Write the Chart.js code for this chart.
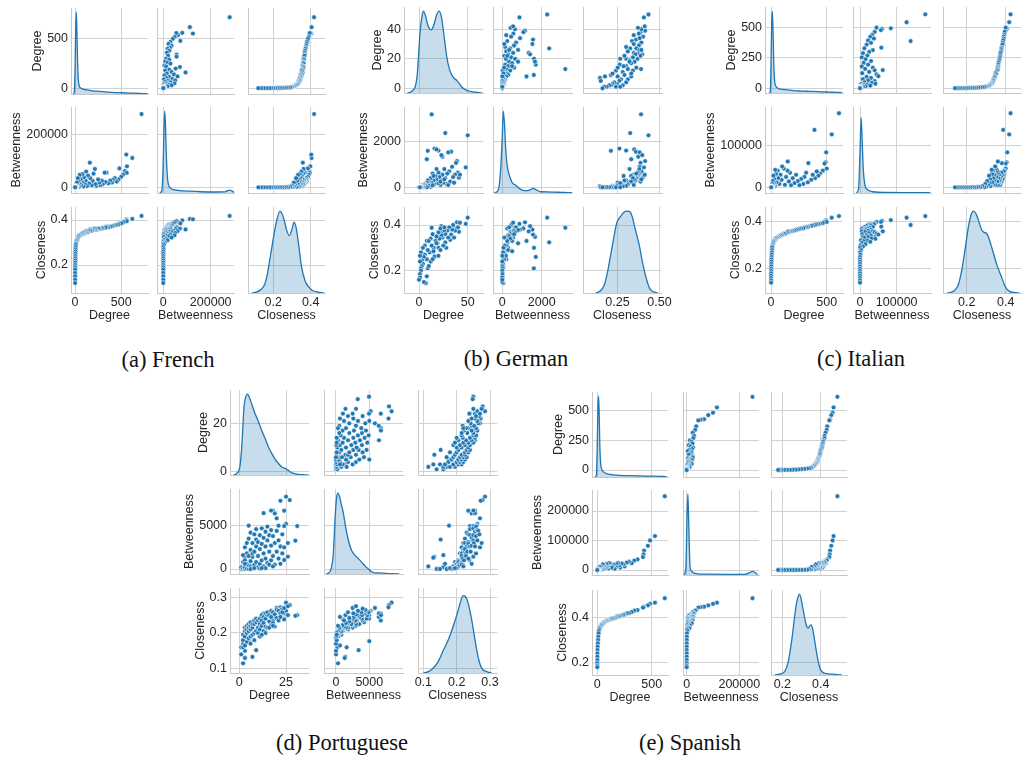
<!DOCTYPE html>
<html lang="en">
<head>
<meta charset="UTF-8">
<title>Degree, betweenness and closeness pair plots</title>
<script src="https://cdn.jsdelivr.net/npm/chart.js"></script>
<style>
    body { margin: 0; background: #fff; }
    #figure { position: relative; width: 1022px; height: 763px; overflow: hidden; }
    #figure canvas { position: absolute; }
    .caption { position: absolute; width: 300px; text-align: center; font-family: "Liberation Serif", serif; font-size: 22.5px; line-height: 26px; color: #111; }
</style>
</head>
<body>
<div id="figure"></div>
<script>
const measureNames = ['Degree', 'Betweenness', 'Closeness'];

// every node is [degree, betweenness, closeness]; kde rows are [value, relative density]

// (a) French
const frenchNodes = [
    [720, 280000, 0.418], [620, 112000, 0.405], [555, 125000, 0.403], [562, 80000, 0.398], [540, 62000, 0.392],
    [560, 55000, 0.395], [520, 48000, 0.39], [480, 72000, 0.385], [500, 40000, 0.385], [470, 30000, 0.38],
    [450, 22000, 0.378], [430, 35000, 0.376], [410, 28000, 0.374], [400, 18000, 0.372], [380, 25000, 0.37],
    [360, 15000, 0.368], [340, 56000, 0.37], [320, 56000, 0.367], [330, 20000, 0.366], [300, 12000, 0.362],
    [290, 25000, 0.364], [270, 8000, 0.36], [260, 18000, 0.361], [250, 30000, 0.362], [230, 5000, 0.356],
    [220, 12000, 0.358], [215, 70000, 0.362], [200, 52000, 0.36], [190, 25000, 0.355], [180, 8000, 0.352],
    [160, 94000, 0.358], [165, 35000, 0.354], [150, 15000, 0.35], [140, 45000, 0.352], [130, 5000, 0.345],
    [120, 60000, 0.35], [115, 25000, 0.346], [105, 12000, 0.343], [95, 38000, 0.345], [90, 3000, 0.338],
    [80, 50000, 0.342], [75, 20000, 0.338], [65, 8000, 0.333], [60, 30000, 0.336], [50, 47000, 0.332],
    [48, 15000, 0.33], [40, 2000, 0.325], [38, 25000, 0.328], [30, 35000, 0.322], [28, 10000, 0.318],
    [22, 4000, 0.312], [20, 18000, 0.31], [15, 1500, 0.305], [12, 6000, 0.3], [10, 500, 0.295],
    [8, 2500, 0.29], [7, 200, 0.28], [6, 1000, 0.27], [5, 100, 0.26], [4, 0, 0.25],
    [4, 300, 0.24], [3, 0, 0.23], [3, 0, 0.22], [2, 0, 0.21], [2, 0, 0.2],
    [2, 0, 0.19], [1, 0, 0.18], [1, 0, 0.165], [1, 0, 0.15], [1, 0, 0.135], [1, 0, 0.12]
];
const frenchDegreeKde = [[-20, 0], [-8, 0.03], [0, 0.3], [7, 0.8], [14, 1], [20, 0.75], [27, 0.4], [35, 0.18], [45, 0.1], [60, 0.075],
    [85, 0.06], [125, 0.05], [170, 0.042], [230, 0.035], [300, 0.028], [400, 0.02], [500, 0.015], [600, 0.011], [700, 0.008], [760, 0.004], [790, 0.001]];
const frenchBetweennessKde = [[-15000, 0], [-6000, 0.03], [-1000, 0.3], [3000, 0.8], [6000, 1], [9000, 0.85], [13000, 0.45], [17000, 0.2], [22000, 0.1],
    [30000, 0.06], [45000, 0.04], [70000, 0.03], [110000, 0.022], [160000, 0.015], [220000, 0.012], [260000, 0.014], [272000, 0.03], [282000, 0.035], [292000, 0.02], [300000, 0.005]];
const frenchClosenessKde = [[0.085, 0], [0.11, 0.01], [0.13, 0.035], [0.145, 0.07], [0.155, 0.11], [0.17, 0.25], [0.186, 0.47], [0.2, 0.66], [0.215, 0.85],
    [0.236, 1], [0.255, 0.92], [0.27, 0.78], [0.286, 0.7], [0.3, 0.78], [0.311, 0.865], [0.322, 0.8], [0.335, 0.6], [0.352, 0.31], [0.37, 0.15],
    [0.387, 0.08], [0.41, 0.03], [0.44, 0.01], [0.47, 0]];
const frenchXTicks = [['0', '500'], ['0', '200000'], ['0.2', '0.4']];
const frenchYTicks = [['0', '500'], ['0', '200000'], ['0.2', '0.4']];

// (b) German
const germanNodes = [
    [13, 3200, 0.388], [27, 2380, 0.324], [50, 2280, 0.432], [48, 870, 0.405], [9, 1600, 0.21],
    [16, 1700, 0.26], [20, 1610, 0.3], [18, 1660, 0.348], [33, 1560, 0.358], [30, 1530, 0.38],
    [24, 1340, 0.372], [23, 1410, 0.395], [8, 1230, 0.33], [39, 1150, 0.412], [38, 1070, 0.385],
    [40, 640, 0.39], [41, 420, 0.37], [37, 560, 0.375], [35, 450, 0.4], [32, 250, 0.335],
    [34, 900, 0.38], [31, 700, 0.39], [42, 550, 0.41], [36, 200, 0.345], [29, 600, 0.375],
    [28, 150, 0.3], [27, 400, 0.36], [26, 800, 0.378], [25, 200, 0.31], [24, 550, 0.345],
    [23, 300, 0.355], [22, 100, 0.29], [21, 450, 0.34], [20, 650, 0.368], [19, 250, 0.32],
    [18, 350, 0.35], [17, 500, 0.33], [16, 150, 0.262], [15, 300, 0.3], [14, 600, 0.36],
    [13, 200, 0.31], [12, 400, 0.34], [11, 100, 0.28], [10, 250, 0.33], [9, 300, 0.29],
    [8, 200, 0.25], [6, 150, 0.27], [6, 120, 0.31], [5, 100, 0.26], [4, 60, 0.3],
    [3, 80, 0.245], [2, 40, 0.28], [12, 20, 0.24], [10, 60, 0.22], [14, 90, 0.25],
    [20, 180, 0.265], [7, 50, 0.145], [8, 0, 0.175], [5, 0, 0.15], [4, 30, 0.23],
    [3, 0, 0.22], [2, 20, 0.21], [2, 0, 0.2], [1, 10, 0.185], [1, 0, 0.17],
    [0, 0, 0.16], [1, 0, 0.24], [1, 0, 0.265], [15, 500, 0.285], [18, 800, 0.32],
    [22, 250, 0.385], [26, 350, 0.39], [30, 100, 0.345]
];
const germanDegreeKde = [[-12, 0], [-7.5, 0.02], [-4, 0.073], [-2, 0.2], [-0.7, 0.41], [1, 0.73], [3, 0.93], [4.5, 1], [6.5, 0.95], [9, 0.83],
    [12.3, 0.77], [15, 0.82], [18, 0.95], [20.5, 1], [23, 0.93], [25.5, 0.72], [28.4, 0.45], [31, 0.3], [33.6, 0.22], [36, 0.18],
    [38.7, 0.155], [41, 0.12], [43.8, 0.073], [47, 0.045], [50.7, 0.027], [55, 0.015], [60, 0.006], [65, 0]];
const germanBetweennessKde = [[-400, 0], [-200, 0.04], [-80, 0.3], [0, 0.7], [50, 1], [110, 0.85], [170, 0.55], [250, 0.33], [330, 0.24], [420, 0.17],
    [520, 0.12], [640, 0.1], [760, 0.08], [900, 0.05], [1100, 0.03], [1300, 0.03], [1450, 0.045], [1580, 0.055], [1750, 0.035], [1950, 0.015],
    [2300, 0.014], [2600, 0.01], [3000, 0.008], [3300, 0.005], [3540, 0.003]];
const germanClosenessKde = [[0.12, 0], [0.137, 0.012], [0.155, 0.04], [0.172, 0.1], [0.185, 0.2], [0.196, 0.31], [0.21, 0.47], [0.225, 0.64], [0.245, 0.85],
    [0.27, 0.94], [0.29, 0.99], [0.31, 1], [0.325, 0.99], [0.338, 0.93], [0.352, 0.81], [0.368, 0.68], [0.382, 0.56], [0.396, 0.4], [0.41, 0.27],
    [0.425, 0.15], [0.44, 0.063], [0.455, 0.025], [0.47, 0.01], [0.49, 0]];
const germanXTicks = [['0', '50'], ['0', '2000'], ['0.25', '0.50']];
const germanYTicks = [['0', '20', '40'], ['0', '2000'], ['0.2', '0.4']];

// (c) Italian
const italianNodes = [
    [610, 178000, 0.425], [545, 127000, 0.418], [390, 138000, 0.387], [495, 84000, 0.408], [490, 60000, 0.405],
    [480, 57000, 0.4], [500, 45000, 0.4], [465, 40000, 0.395], [440, 33000, 0.393], [425, 28000, 0.39],
    [410, 38000, 0.39], [395, 22000, 0.387], [375, 30000, 0.385], [360, 18000, 0.383], [335, 58000, 0.38],
    [330, 12000, 0.378], [315, 35000, 0.378], [300, 25000, 0.376], [290, 8000, 0.373], [270, 20000, 0.372],
    [255, 5000, 0.37], [240, 15000, 0.368], [225, 30000, 0.366], [210, 10000, 0.363], [195, 22000, 0.362],
    [180, 5000, 0.36], [170, 35000, 0.36], [160, 14000, 0.357], [150, 62000, 0.36], [148, 40000, 0.356],
    [135, 25000, 0.352], [125, 6000, 0.348], [115, 45000, 0.35], [100, 50000, 0.346], [95, 18000, 0.343],
    [85, 30000, 0.342], [75, 8000, 0.338], [65, 22000, 0.336], [60, 40000, 0.335], [50, 12000, 0.332],
    [45, 32000, 0.33], [38, 42000, 0.328], [35, 3000, 0.322], [30, 20000, 0.32], [28, 10000, 0.318],
    [22, 28000, 0.315], [20, 5000, 0.31], [16, 15000, 0.305], [14, 1500, 0.3], [12, 8000, 0.295],
    [10, 500, 0.29], [9, 3000, 0.28], [8, 300, 0.27], [6, 1000, 0.26], [5, 100, 0.25],
    [4, 0, 0.24], [4, 200, 0.23], [3, 0, 0.22], [3, 0, 0.21], [2, 0, 0.2],
    [2, 0, 0.19], [1, 0, 0.18], [1, 0, 0.17], [1, 0, 0.16], [1, 0, 0.15], [1, 0, 0.14]
];
const italianDegreeKde = [[-15, 0], [-6, 0.03], [0, 0.35], [6, 0.85], [12, 1], [18, 0.75], [25, 0.35], [33, 0.14], [45, 0.08], [60, 0.06],
    [90, 0.047], [130, 0.04], [200, 0.03], [275, 0.024], [350, 0.02], [425, 0.016], [500, 0.012], [560, 0.009], [610, 0.006], [640, 0.002]];
const italianBetweennessKde = [[-10000, 0], [-4000, 0.05], [0, 0.5], [3000, 0.92], [6000, 0.62], [9000, 0.28], [13600, 0.094], [18000, 0.05],
    [23000, 0.033], [30000, 0.02], [41000, 0.012], [70000, 0.008], [120000, 0.005], [180000, 0.004], [192000, 0.002]];
const italianClosenessKde = [[0.1, 0], [0.118, 0.008], [0.131, 0.02], [0.145, 0.05], [0.157, 0.1], [0.174, 0.27], [0.191, 0.52], [0.209, 0.81],
    [0.222, 0.95], [0.234, 1], [0.247, 0.97], [0.26, 0.89], [0.277, 0.77], [0.29, 0.74], [0.303, 0.725], [0.315, 0.66], [0.328, 0.56],
    [0.354, 0.35], [0.38, 0.187], [0.397, 0.079], [0.42, 0.02], [0.45, 0.004], [0.47, 0]];
const italianXTicks = [['0', '500'], ['0', '100000'], ['0.2', '0.4']];
const italianYTicks = [['0', '250', '500'], ['0', '100000'], ['0.2', '0.4']];

// (d) Portuguese
const portugueseNodes = [
    [25, 8350, 0.285], [27, 7960, 0.278], [22, 7880, 0.272], [18, 6730, 0.235], [19, 6420, 0.245],
    [24, 6730, 0.255], [20, 5850, 0.27], [25, 5200, 0.262], [24, 4960, 0.24], [31, 4960, 0.25],
    [30, 3270, 0.248], [13, 6450, 0.255], [17, 6750, 0.25], [5, 5000, 0.177], [9, 3400, 0.152],
    [7, 1400, 0.133], [26, 1420, 0.25], [24, 1040, 0.238], [21, 5000, 0.26], [3, 1300, 0.13],
    [2, 300, 0.115], [1, 0, 0.14], [1, 200, 0.16], [2, 0, 0.17], [2, 100, 0.18],
    [2, 800, 0.195], [3, 0, 0.15], [3, 200, 0.19], [3, 1000, 0.205], [3, 2500, 0.215],
    [4, 50, 0.175], [4, 600, 0.2], [4, 1800, 0.21], [4, 3000, 0.22], [5, 0, 0.185],
    [5, 400, 0.205], [5, 1500, 0.215], [5, 3500, 0.225], [6, 300, 0.19], [6, 900, 0.21],
    [6, 2200, 0.22], [6, 4200, 0.23], [7, 100, 0.195], [7, 1800, 0.215], [7, 3000, 0.225],
    [8, 500, 0.2], [8, 2000, 0.225], [8, 4000, 0.235], [9, 800, 0.205], [9, 2600, 0.23],
    [9, 4600, 0.24], [10, 200, 0.2], [10, 1500, 0.215], [10, 3100, 0.235], [11, 600, 0.21],
    [11, 2300, 0.225], [11, 3900, 0.24], [12, 1000, 0.22], [12, 2900, 0.235], [12, 4700, 0.25],
    [13, 300, 0.205], [13, 1800, 0.228], [13, 3600, 0.245], [14, 1200, 0.218], [14, 2600, 0.24],
    [14, 4300, 0.255], [15, 700, 0.215], [15, 3300, 0.25], [15, 4900, 0.258], [16, 2000, 0.232],
    [16, 3900, 0.25], [17, 1000, 0.222], [17, 2700, 0.245], [17, 4500, 0.262], [18, 1500, 0.228],
    [18, 3800, 0.258], [19, 500, 0.218], [19, 3000, 0.252], [20, 2000, 0.242], [20, 4400, 0.265],
    [21, 1200, 0.235], [21, 3300, 0.262], [22, 2600, 0.255], [22, 600, 0.245], [23, 4000, 0.268],
    [23, 1800, 0.258], [24, 2500, 0.27], [26, 3000, 0.275], [2, 1600, 0.16], [3, 600, 0.165],
    [6, 0, 0.17], [8, 100, 0.18], [11, 50, 0.19], [14, 100, 0.2], [16, 500, 0.215],
    [18, 300, 0.22], [12, 100, 0.195]
];
const portugueseDegreeKde = [[-3, 0], [-1.4, 0.02], [0.4, 0.12], [1.3, 0.35], [2.5, 0.84], [3.5, 0.97], [4.3, 1], [5.5, 0.95], [7, 0.85], [8.4, 0.76],
    [10.2, 0.66], [12, 0.55], [13.8, 0.45], [15.5, 0.35], [17.3, 0.27], [19, 0.2], [20.9, 0.144], [22.7, 0.1], [24.5, 0.082], [26, 0.06],
    [27.5, 0.035], [29, 0.02], [31.6, 0.008], [35, 0.002], [37, 0]];
const portugueseBetweennessKde = [[-1500, 0], [-1150, 0.01], [-750, 0.06], [-400, 0.25], [-150, 0.67], [100, 0.95], [300, 1], [550, 0.95], [800, 0.86],
    [1100, 0.756], [1450, 0.58], [1850, 0.42], [2300, 0.3], [2850, 0.23], [3350, 0.19], [3850, 0.147], [4350, 0.1], [4850, 0.063], [5300, 0.03],
    [5800, 0.015], [6300, 0.015], [6800, 0.012], [7500, 0.007], [8500, 0.003], [9500, 0]];
const portugueseClosenessKde = [[0.1, 0], [0.115, 0.016], [0.13, 0.062], [0.145, 0.144], [0.16, 0.28], [0.175, 0.41], [0.19, 0.58], [0.205, 0.78],
    [0.213, 0.9], [0.22, 0.955], [0.226, 0.945], [0.233, 0.885], [0.245, 0.66], [0.255, 0.41], [0.265, 0.185], [0.275, 0.06], [0.29, 0.016], [0.305, 0]];
const portugueseXTicks = [['0', '25'], ['0', '5000'], ['0.1', '0.2', '0.3']];
const portugueseYTicks = [['0', '20'], ['0', '5000'], ['0.1', '0.2', '0.3']];

// (e) Spanish
const spanishNodes = [
    [620, 250000, 0.487], [530, 115000, 0.467], [485, 100000, 0.462], [465, 82000, 0.455], [430, 66000, 0.449],
    [425, 53000, 0.447], [420, 44000, 0.445], [370, 36000, 0.434], [340, 32000, 0.431], [316, 23000, 0.425],
    [290, 28000, 0.42], [270, 25000, 0.419], [250, 12000, 0.414], [240, 19000, 0.412], [224, 22000, 0.41],
    [210, 8000, 0.408], [200, 15000, 0.405], [190, 24000, 0.406], [178, 20000, 0.404], [170, 10000, 0.4],
    [160, 4000, 0.398], [150, 18000, 0.398], [140, 12000, 0.396], [130, 8000, 0.395], [117, 22000, 0.393],
    [107, 23000, 0.39], [100, 5000, 0.388], [95, 12000, 0.388], [90, 15000, 0.387], [85, 20000, 0.385],
    [78, 9000, 0.384], [70, 6000, 0.382], [65, 16000, 0.38], [60, 12000, 0.378], [56, 4000, 0.375],
    [50, 19000, 0.374], [45, 8000, 0.37], [40, 2500, 0.367], [35, 12000, 0.365], [30, 5000, 0.36],
    [23, 6000, 0.355], [20, 10000, 0.352], [18, 1500, 0.348], [14, 3000, 0.34], [12, 800, 0.33],
    [9, 500, 0.315], [7, 300, 0.3], [5, 100, 0.285], [3, 50, 0.27], [2, 0, 0.255],
    [1, 0, 0.24], [1, 0, 0.225], [1, 0, 0.21], [0, 0, 0.196], [0, 0, 0.185], [0, 0, 0.178]
];
const spanishDegreeKde = [[-20, 0], [-8, 0.03], [0, 0.4], [6, 0.9], [12, 1], [17, 0.8], [23, 0.4], [30, 0.18], [40, 0.1], [60, 0.06],
    [86, 0.04], [130, 0.03], [209, 0.02], [300, 0.016], [400, 0.013], [515, 0.01], [600, 0.006], [640, 0.002]];
const spanishBetweennessKde = [[-10000, 0], [-3000, 0.1], [1000, 0.7], [4500, 1], [8000, 0.6], [12700, 0.1], [18000, 0.05], [25000, 0.027],
    [40000, 0.015], [80000, 0.01], [150000, 0.008], [220000, 0.008], [240000, 0.03], [250000, 0.045], [260000, 0.03], [270000, 0.005]];
const spanishClosenessKde = [[0.16, 0], [0.188, 0.012], [0.214, 0.047], [0.231, 0.165], [0.249, 0.43], [0.258, 0.6], [0.266, 0.76], [0.278, 0.93],
    [0.289, 1], [0.298, 0.94], [0.306, 0.84], [0.315, 0.72], [0.327, 0.6], [0.335, 0.58], [0.343, 0.61], [0.35, 0.62], [0.358, 0.57],
    [0.368, 0.43], [0.379, 0.27], [0.388, 0.16], [0.397, 0.078], [0.41, 0.035], [0.423, 0.02], [0.45, 0.012], [0.475, 0.008], [0.51, 0]];
const spanishXTicks = [['0', '500'], ['0', '200000'], ['0.2', '0.4']];
const spanishYTicks = [['0', '250', '500'], ['0', '100000', '200000'], ['0.2', '0.4']];

// placement of each 3x3 grid (plot-area boxes in page pixels) and axis limits
const pairPlots = [
    { caption: '(a) French', nodes: frenchNodes, kde: [frenchDegreeKde, frenchBetweennessKde, frenchClosenessKde],
      xTicks: frenchXTicks, yTicks: frenchYTicks,
      xRange: [[-44, 790], [-26600, 298300], [0.065, 0.4765]], yRange: [[-58, 814], [-21800, 307000], [0.0756, 0.4578]],
      cols: [71, 157, 248], rows: [8, 107, 207], w: 77, h: 86, captionX: 168, captionY: 368 },
    { caption: '(b) German', nodes: germanNodes, kde: [germanDegreeKde, germanBetweennessKde, germanClosenessKde],
      xTicks: germanXTicks, yTicks: germanYTicks,
      xRange: [[-15.4, 65.7], [-472, 3538], [0.045, 0.512]], yRange: [[-3.2, 55.1], [-250, 3522], [0.102, 0.479]],
      cols: [404, 493, 583], rows: [7, 107, 207], w: 79, h: 86, captionX: 516, captionY: 367 },
    { caption: '(c) Italian', nodes: italianNodes, kde: [italianDegreeKde, italianBetweennessKde, italianClosenessKde],
      xTicks: italianXTicks, yTicks: italianYTicks,
      xRange: [[-54, 646], [-19100, 193500], [0.0785, 0.4785]], yRange: [[-38.8, 670.8], [-13700, 193000], [0.096, 0.464]],
      cols: [765, 853, 943], rows: [7, 107, 207], w: 78, h: 86, captionX: 861, captionY: 367 },
    { caption: '(d) Portuguese', nodes: portugueseNodes, kde: [portugueseDegreeKde, portugueseBetweennessKde, portugueseClosenessKde],
      xTicks: portugueseXTicks, yTicks: portugueseYTicks,
      xRange: [[-5, 37.3], [-1800, 10060], [0.084, 0.321]], yRange: [[-1.36, 33.8], [-577, 9240], [0.088, 0.326]],
      cols: [230, 324, 418], rows: [390, 489, 588], w: 79, h: 85, captionX: 342, captionY: 751 },
    { caption: '(e) Spanish', nodes: spanishNodes, kde: [spanishDegreeKde, spanishBetweennessKde, spanishClosenessKde],
      xTicks: spanishXTicks, yTicks: spanishYTicks,
      xRange: [[-48.7, 649.8], [-14100, 274900], [0.141, 0.537]], yRange: [[-59.3, 661], [-16950, 271200], [0.143, 0.524]],
      cols: [592, 683, 771], rows: [392, 490, 590], w: 76, h: 85, captionX: 690, captionY: 751 }
];

const BLUE = '#1f77b4';
const FILL = 'rgba(31, 119, 180, 0.25)';
const GRID = '#d2d2d2';
const SPINE = '#c8c8c8';
const INK = '#262626';
const FONT_SIZE = 12.5;
const PAD = 12;
const X_AXIS_H = 30;

Chart.defaults.font.family = '"Liberation Sans", Arial, sans-serif';
Chart.defaults.font.size = FONT_SIZE;
Chart.defaults.color = INK;

const figure = document.getElementById('figure');
const meter = document.createElement('canvas').getContext('2d');
meter.font = FONT_SIZE + 'px "Liberation Sans"';

// room for rotated title + widest tick label, like matplotlib puts the ylabel next to the ticks
function yAxisWidth(labels) {
    const widest = Math.max(...labels.map(t => meter.measureText(t).width));
    return Math.round(FONT_SIZE * 1.2 + 2 + widest + 3);
}

function makeAxis(range, ticks, showLabels, title, size, horizontal) {
    const values = ticks.map(Number);
    return {
        type: 'linear',
        position: horizontal ? 'bottom' : 'left',
        min: range[0],
        max: range[1],
        grid: { color: GRID, lineWidth: 1, drawTicks: false },
        border: { display: true, color: SPINE, width: 1 },
        ticks: { display: showLabels, padding: horizontal ? 2 : 3, autoSkip: false, maxRotation: 0,
                 callback: (v, i) => ticks[i] },
        title: { display: showLabels, text: title, padding: horizontal ? 0 : { top: 0, bottom: 2 } },
        afterBuildTicks: s => { s.ticks = values.map(v => ({ value: v })); },
        afterFit: s => {
            if (horizontal) s.height = showLabels ? X_AXIS_H : 0;
            else s.width = showLabels ? size : 0;
        }
    };
}

function drawCell(plot, r, c) {
    const showX = r === 2;
    const showY = c === 0;
    const yW = showY ? yAxisWidth(plot.yTicks[r]) : 0;
    const xH = showX ? X_AXIS_H : 0;
    const width = plot.w + yW + 2 * PAD;
    const height = plot.h + xH + 2 * PAD;

    const canvas = document.createElement('canvas');
    canvas.width = width;
    canvas.height = height;
    canvas.style.left = (plot.cols[c] - yW - PAD) + 'px';
    canvas.style.top = (plot.rows[r] - PAD) + 'px';
    canvas.style.width = width + 'px';
    canvas.style.height = height + 'px';
    figure.appendChild(canvas);

    const scales = {
        x: makeAxis(plot.xRange[c], plot.xTicks[c], showX, measureNames[c], 0, true),
        y: makeAxis(plot.yRange[r], plot.yTicks[r], showY, measureNames[r], yW, false)
    };

    let type, datasets;
    if (r === c) {
        // diagonal: kde on its own hidden density axis
        type = 'line';
        scales.density = { type: 'linear', axis: 'y', display: false, min: 0, max: 1.05 };
        datasets = [{
            data: plot.kde[c].map(([x, y]) => ({ x, y })),
            yAxisID: 'density',
            pointRadius: 0,
            borderColor: BLUE,
            borderWidth: 1.3,
            backgroundColor: FILL,
            fill: 'origin',
            cubicInterpolationMode: 'monotone'
        }];
    } else {
        type = 'scatter';
        datasets = [{
            data: plot.nodes.map(n => ({ x: n[c], y: n[r] })),
            pointRadius: 2.4,
            pointBackgroundColor: BLUE,
            pointBorderColor: '#ffffff',
            pointBorderWidth: 0.6
        }];
    }

    new Chart(canvas, {
        type,
        data: { datasets },
        options: {
            responsive: false,
            animation: false,
            events: [],
            layout: { padding: PAD },
            plugins: { legend: { display: false }, tooltip: { enabled: false } },
            scales
        }
    });
}

pairPlots.forEach(plot => {
    for (let r = 0; r < 3; r++) {
        for (let c = 0; c < 3; c++) drawCell(plot, r, c);
    }
    const cap = document.createElement('div');
    cap.className = 'caption';
    cap.textContent = plot.caption;
    cap.style.left = (plot.captionX - 150) + 'px';
    cap.style.top = (plot.captionY - 20.6) + 'px';
    figure.appendChild(cap);
});
</script>
</body>
</html>
